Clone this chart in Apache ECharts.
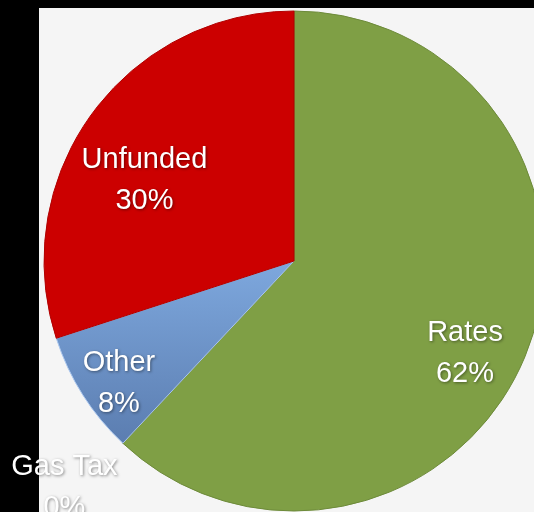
<!DOCTYPE html>
<html>
<head>
<meta charset="utf-8">
<script src="https://cdn.jsdelivr.net/npm/echarts@6/dist/echarts.min.js"></script>
<style>
  html, body { margin: 0; padding: 0; background: #000; }
  #wrap { position: relative; width: 534px; height: 512px; overflow: hidden; background: #000; }
  #panel { position: absolute; left: 39px; top: 8px; right: 0; bottom: 0; background: #f5f5f5; }
  #chart { position: absolute; left: 0; top: 0; width: 534px; height: 512px; }
</style>
</head>
<body>
<div id="wrap">
  <div id="panel"></div>
  <div id="chart"></div>
</div>
<script>
// Funding sources, percent of total (clockwise from 12 o'clock)
const categories = ['Rates', 'Gas Tax', 'Other', 'Unfunded'];
const shares = [62, 0, 8, 30];

// Slice fills
const sliceColors = [
  '#7f9f45',
  '#7f9f45',
  new echarts.graphic.LinearGradient(0, 0, 0, 1, [
    { offset: 0, color: '#7ea8de' },
    { offset: 1, color: '#5b7db0' }
  ]),
  '#cc0000'
];
const sliceBorders = ['#6d8a3a', '#6d8a3a', '#a9c6ee', '#b00000'];

// Nudges that move each label from the slice's inner point to its spot
const labelOffsets = [[52, 45], [-142, 133], [-67, 54], [-46, -5]];

const chart = echarts.init(document.getElementById('chart'), null, { renderer: 'canvas' });

chart.setOption({
  animation: false,
  backgroundColor: 'transparent',
  series: [{
    type: 'pie',
    center: [294, 261],
    radius: [0, 250],
    startAngle: 90,
    clockwise: true,
    minShowLabelAngle: 0,
    label: {
      show: true,
      position: 'inside',
      formatter: p => p.name + '\n' + Math.round(p.value) + '%',
      color: '#ffffff',
      fontFamily: 'Liberation Sans, Arial, sans-serif',
      fontSize: 29,
      lineHeight: 41,
      align: 'center',
      textShadowColor: 'rgba(0,0,0,0.45)',
      textShadowBlur: 3,
      textShadowOffsetX: 1,
      textShadowOffsetY: 1
    },
    labelLine: { show: false },
    emphasis: { disabled: true },
    data: categories.map((name, i) => ({
      name: name,
      value: shares[i],
      itemStyle: {
        color: sliceColors[i],
        borderColor: sliceBorders[i],
        borderWidth: 1
      },
      label: { offset: labelOffsets[i] }
    }))
  }]
});
</script>
</body>
</html>
